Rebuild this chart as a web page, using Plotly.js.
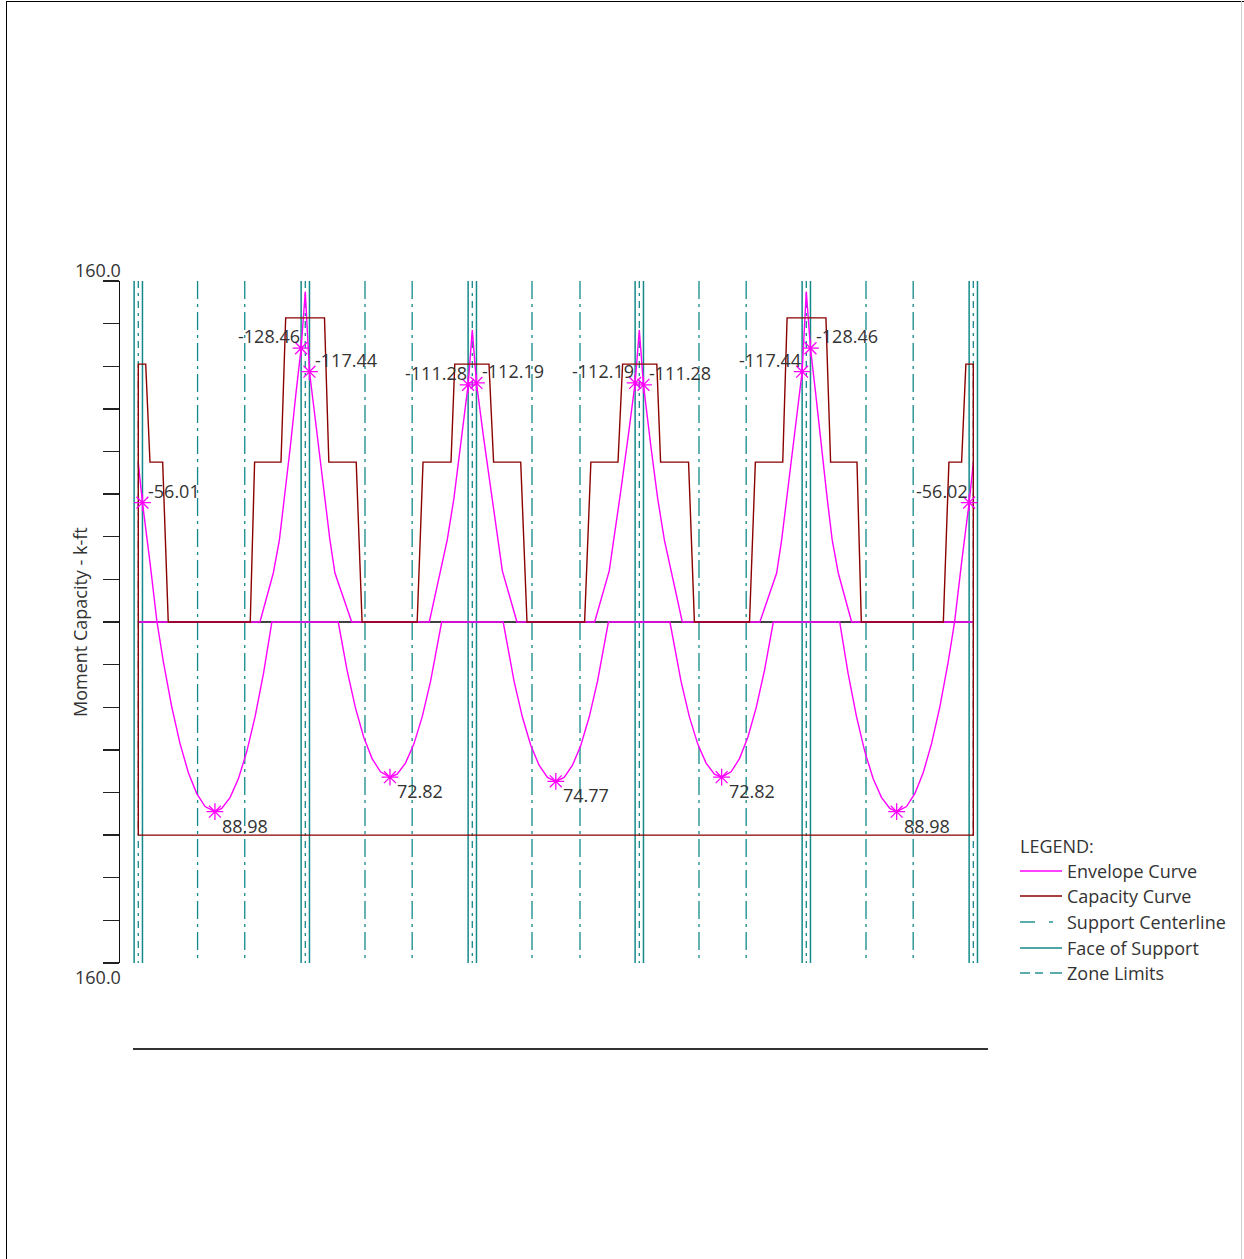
<!DOCTYPE html>
<html>
<head>
<meta charset="utf-8">
<script src="https://cdn.plot.ly/plotly-3.0.1.min.js"></script>
<style>
  html, body { margin: 0; padding: 0; background: #fff; }
  #chart { width: 1244px; height: 1259px; }
  .bline { position: absolute; }
</style>
</head>
<body>
<div id="chart"></div>
<div class="bline" style="left:6px;top:1px;width:1238px;height:1px;background:#000"></div>
<div class="bline" style="left:6px;top:1px;width:1px;height:1258px;background:#000"></div>
<div class="bline" style="left:1241px;top:1px;width:1px;height:1258px;background:#d0d0d0"></div>
<script>
// ---------------- DATA (ft, k-ft; negative moment plotted upward) ----------------
const supports = [0, 20, 40, 60, 80, 100];
const faceOffsets = [-0.5, 0.5];
const zoneLimits = [7.1, 12.75, 27.15, 32.8, 47.15, 52.9, 67.15, 72.8, 87.15, 92.8];

// positive moment envelope
const envPosX = [0, 2.24, 3, 4, 5, 6, 7, 8, 9.18, 10, 11, 12, 13, 14, 15, 16,
  23.95, 25, 26, 27, 28, 29, 30.14, 31, 32, 33, 34, 35, 36.33,
  43.7, 45, 46, 47, 48, 49, 50, 51, 52, 53, 54, 55, 56.3,
  63.67, 65, 66, 67, 68, 69, 69.86, 71, 72, 73, 74, 75, 76.05,
  84.0, 85, 86, 87, 88, 89, 90, 90.82, 92, 93, 94, 95, 96, 97, 97.76, 100];
const envPosY = [0, 0, 18.6, 39.7, 57.1, 70.7, 80.5, 86.6, 88.98, 87.5, 82.3, 73.4, 60.7, 44.2, 24.0, 0,
  0, 22.6, 40.2, 54.1, 64.1, 70.3, 72.82, 71.4, 66.2, 57.3, 44.5, 27.9, 0,
  0, 27.7, 44.6, 57.8, 67.2, 72.9, 74.77, 72.9, 67.2, 57.8, 44.6, 27.7, 0,
  0, 27.9, 44.5, 57.3, 66.2, 71.4, 72.82, 70.3, 64.1, 54.1, 40.2, 22.6, 0,
  0, 24.0, 44.2, 60.7, 73.4, 82.3, 87.5, 88.98, 86.6, 80.5, 70.7, 57.1, 39.7, 18.6, 0, 0];

// negative moment envelope
const envNegX = [0, 0.5, 1.4, 2.24,
  14.57, 16.17, 16.9, 17.5, 18.2, 18.9, 19.5, 20, 20.5, 21.2, 22, 22.95, 23.55, 25.56,
  34.85, 36.1, 37.0, 37.8, 38.6, 39.5, 40, 40.5, 41.3, 42.2, 43.0, 43.6, 45.35,
  54.65, 56.4, 57.0, 57.8, 58.7, 59.5, 60, 60.5, 61.4, 62.2, 63.0, 63.9, 65.15,
  74.44, 76.45, 77.05, 78, 78.8, 79.5, 80, 80.5, 81.1, 81.8, 82.5, 83.1, 83.83, 85.43,
  97.76, 98.6, 99.5, 100];
const envNegY = [-74.6, -56.01, -28, 0,
  0, -23, -38.5, -58, -82, -108, -128.46, -155, -117.44, -95, -69, -38.5, -23, 0,
  0, -23, -38.5, -58, -82, -111.28, -137, -112.19, -88, -62, -40, -24, 0,
  0, -24, -40, -62, -88, -112.19, -137, -111.28, -82, -58, -38.5, -23, 0,
  0, -23, -38.5, -69, -95, -117.44, -155, -128.46, -108, -82, -58, -38.5, -23, 0,
  0, -28, -56.02, -74.6];

// capacity curve
const capX = [0, 0, 0.89, 1.4, 2.92, 3.59,
  13.41, 13.93, 17.09, 17.65, 22.3, 22.82, 26.1, 26.8,
  33.4, 34.1, 37.45, 37.9, 42.0, 42.55, 45.8, 46.55,
  53.45, 54.2, 57.45, 58.0, 62.1, 62.55, 65.9, 66.6,
  73.2, 73.9, 77.18, 77.7, 82.35, 82.91, 86.07, 86.59,
  96.41, 97.08, 98.6, 99.11, 100, 100, 0];
const capY = [100, -121, -121, -75, -75, 0,
  0, -75, -75, -142.7, -142.7, -75, -75, 0,
  0, -75, -75, -121, -121, -75, -75, 0,
  0, -75, -75, -121, -121, -75, -75, 0,
  0, -75, -75, -142.7, -142.7, -75, -75, 0,
  0, -75, -75, -121, -121, 100, 100];

// marked values
const negPtX = [0.5, 19.5, 20.5, 39.5, 40.5, 59.5, 60.5, 79.5, 80.5, 99.5];
const negPtY = [-56.01, -128.46, -117.44, -111.28, -112.19, -112.19, -111.28, -117.44, -128.46, -56.02];
const negPtSide = ['right', 'left', 'right', 'left', 'right', 'left', 'right', 'left', 'right', 'left'];
const posPtX = [9.18, 30.14, 50, 69.86, 90.82];
const posPtY = [88.98, 72.82, 74.77, 72.82, 88.98];

const yTickVals = [-160, -140, -120, -100, -80, -60, -40, -20, 0, 20, 40, 60, 80, 100, 120, 140, 160];
const yEndLabel = '160.0';
const yTitle = 'Moment Capacity - k-ft';
const legendTitle = 'LEGEND:';
const legendNames = ['Envelope Curve', 'Capacity Curve', 'Support Centerline', 'Face of Support', 'Zone Limits'];

// ---------------- STYLE ----------------
const MAG = '#ff00ff', CAP = '#8b0000', TEAL = '#13898a', TXT = '#333333';
const FONT = 'Open Sans, Noto Sans, sans-serif';
const YMIN = -160, YMAX = 160;

function vlines(xs) {
  const x = [], y = [];
  xs.forEach(v => { x.push(v, v, null); y.push(YMIN, YMAX, null); });
  return {x, y};
}
const faceXs = [];
supports.forEach(s => faceOffsets.forEach(o => faceXs.push(s + o)));
const cl = vlines(supports), fc = vlines(faceXs), zl = vlines(zoneLimits);

const traces = [
  {x: [supports[0], supports[supports.length - 1]], y: [0, 0], mode: 'lines', line: {color: '#000', width: 1.5}, hoverinfo: 'skip'},
  {x: zl.x, y: zl.y, mode: 'lines', line: {color: TEAL, width: 1.3, dash: '18px,5px,3px,5px'}, hoverinfo: 'skip'},
  {x: fc.x, y: fc.y, mode: 'lines', line: {color: TEAL, width: 1.5}, hoverinfo: 'skip'},
  {x: cl.x, y: cl.y, mode: 'lines', line: {color: TEAL, width: 1.3, dash: '7px,5px,3px,5px'}, hoverinfo: 'skip'},
  {x: envPosX, y: envPosY, mode: 'lines', line: {color: MAG, width: 1.4}, hoverinfo: 'skip'},
  {x: envNegX, y: envNegY, mode: 'lines', line: {color: MAG, width: 1.4}, hoverinfo: 'skip'},
  {x: capX, y: capY, mode: 'lines', line: {color: CAP, width: 1.4}, hoverinfo: 'skip'},
  {x: negPtX.concat(posPtX), y: negPtY.concat(posPtY), mode: 'markers', cliponaxis: false,
   marker: {symbol: 'asterisk-open', size: 14, color: MAG, line: {color: MAG, width: 1.3}}, hoverinfo: 'skip'}
];

// plot area geometry in page pixels
const L = 120, R = 988, T = 281, B = 963;
const px = v => (v - L) / (R - L);
const py = v => (B - v) / (B - T);

const annotations = [];
negPtX.forEach((x, i) => {
  const right = negPtSide[i] === 'right';
  annotations.push({x: x, y: negPtY[i], xref: 'x', yref: 'y', text: negPtY[i].toFixed(2), showarrow: false,
    xanchor: right ? 'left' : 'right', yanchor: 'middle', xshift: right ? 4 : 1, yshift: 12,
    font: {family: FONT, size: 18, color: TXT}});
});
posPtX.forEach((x, i) => {
  annotations.push({x: x, y: posPtY[i], xref: 'x', yref: 'y', text: posPtY[i].toFixed(2), showarrow: false,
    xanchor: 'left', yanchor: 'middle', xshift: 5, yshift: -14,
    font: {family: FONT, size: 18, color: TXT}});
});
// axis end labels
annotations.push({xref: 'paper', yref: 'paper', x: px(123), y: py(270), text: yEndLabel, showarrow: false,
  xanchor: 'right', yanchor: 'middle', font: {family: FONT, size: 18, color: TXT}});
annotations.push({xref: 'paper', yref: 'paper', x: px(123), y: py(977), text: yEndLabel, showarrow: false,
  xanchor: 'right', yanchor: 'middle', font: {family: FONT, size: 18, color: TXT}});
// y title
annotations.push({xref: 'paper', yref: 'paper', x: px(80), y: py(622), text: yTitle, showarrow: false, textangle: -90,
  xanchor: 'center', yanchor: 'middle', font: {family: FONT, size: 18, color: TXT}});

// legend (drawn manually)
const legY = [871, 896, 922, 948, 973];
annotations.push({xref: 'paper', yref: 'paper', x: px(1018), y: py(846), text: legendTitle, showarrow: false,
  xanchor: 'left', yanchor: 'middle', font: {family: FONT, size: 18, color: TXT}});
legendNames.forEach((n, i) => annotations.push({xref: 'paper', yref: 'paper', x: px(1065), y: py(legY[i]), text: n,
  showarrow: false, xanchor: 'left', yanchor: 'middle', font: {family: FONT, size: 18, color: TXT}}));

const shapes = [];
function seg(x0, x1, yy, color, dash) {
  shapes.push({type: 'line', xref: 'paper', yref: 'paper', x0: px(x0), x1: px(x1), y0: py(yy), y1: py(yy),
    line: {color: color, width: 1.4, dash: dash || 'solid'}});
}
seg(1020, 1062, legY[0], MAG);
seg(1020, 1062, legY[1], CAP);
seg(1020, 1035, legY[2], TEAL);
seg(1049, 1053, legY[2], TEAL);
seg(1020, 1062, legY[3], TEAL);
seg(1020, 1030, legY[4], TEAL);
seg(1035, 1043, legY[4], TEAL);
seg(1050, 1062, legY[4], TEAL);
// lower baseline rule
shapes.push({type: 'line', xref: 'paper', yref: 'paper', x0: px(133), x1: px(988), y0: py(1049), y1: py(1049),
  line: {color: '#333', width: 2}});

const layout = {
  width: 1244, height: 1259,
  margin: {l: L, r: 1244 - R, t: T, b: 1259 - B, pad: 0},
  paper_bgcolor: '#fff', plot_bgcolor: '#fff',
  showlegend: false,
  xaxis: {range: [-2.19, 101.76], visible: false, fixedrange: true},
  yaxis: {range: [YMAX, YMIN], tickvals: yTickVals, showticklabels: false, ticks: 'outside', ticklen: 16,
    tickcolor: '#222', tickwidth: 1.3, showline: true, linecolor: '#111', linewidth: 1.5,
    showgrid: false, zeroline: false, fixedrange: true},
  annotations: annotations,
  shapes: shapes,
  font: {family: FONT, color: TXT}
};

Plotly.newPlot('chart', traces, layout, {displayModeBar: false, staticPlot: true});
</script>
</body>
</html>
